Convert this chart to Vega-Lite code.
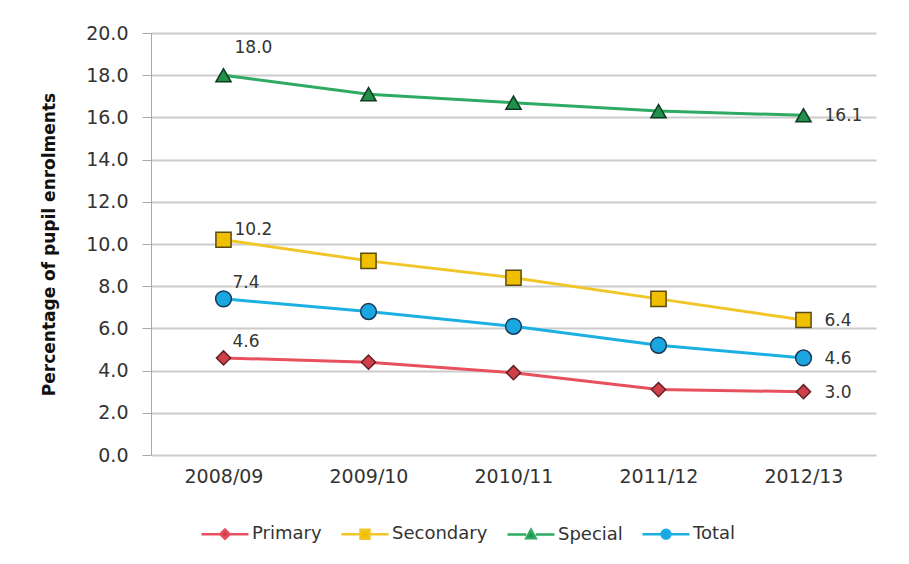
{
  "$schema": "https://vega.github.io/schema/vega-lite/v6.json",
  "autosize": {"type": "none"},
  "width": 725,
  "height": 422,
  "padding": {"left": 151, "top": 33, "right": 33, "bottom": 109},
  "background": "white",
  "config": {
    "font": "DejaVu Sans",
    "view": {"stroke": null},
    "axis": {"labelFont": "DejaVu Sans", "labelFontSize": 19, "labelColor": "#333333", "titleFont": "DejaVu Sans"}
  },
  "data": {
    "values": [
      {"year": "2008/09", "series": "Primary", "value": 4.6},
      {"year": "2009/10", "series": "Primary", "value": 4.4},
      {"year": "2010/11", "series": "Primary", "value": 3.9},
      {"year": "2011/12", "series": "Primary", "value": 3.1},
      {"year": "2012/13", "series": "Primary", "value": 3.0},
      {"year": "2008/09", "series": "Secondary", "value": 10.2},
      {"year": "2009/10", "series": "Secondary", "value": 9.2},
      {"year": "2010/11", "series": "Secondary", "value": 8.4},
      {"year": "2011/12", "series": "Secondary", "value": 7.4},
      {"year": "2012/13", "series": "Secondary", "value": 6.4},
      {"year": "2008/09", "series": "Special", "value": 18.0},
      {"year": "2009/10", "series": "Special", "value": 17.1},
      {"year": "2010/11", "series": "Special", "value": 16.7},
      {"year": "2011/12", "series": "Special", "value": 16.3},
      {"year": "2012/13", "series": "Special", "value": 16.1},
      {"year": "2008/09", "series": "Total", "value": 7.4},
      {"year": "2009/10", "series": "Total", "value": 6.8},
      {"year": "2010/11", "series": "Total", "value": 6.1},
      {"year": "2011/12", "series": "Total", "value": 5.2},
      {"year": "2012/13", "series": "Total", "value": 4.6}
    ]
  },
  "encoding": {
    "x": {
      "field": "year", "type": "ordinal",
      "scale": {"type": "point", "padding": 0.5},
      "axis": {"title": null, "labelAngle": 0, "ticks": false, "labelPadding": 12, "domain": false, "grid": false}
    },
    "y": {
      "field": "value", "type": "quantitative",
      "scale": {"domain": [0, 20], "nice": false},
      "axis": {
        "title": "Percentage of pupil enrolments",
        "titleFontSize": 17, "titleFontWeight": "bold", "titleColor": "#111111", "titlePadding": 27,
        "values": [0, 2, 4, 6, 8, 10, 12, 14, 16, 18, 20], "format": ".1f",
        "tickSize": 9, "tickColor": "#a8a8a8", "labelPadding": 14,
        "domainColor": "#a8a8a8", "gridColor": "#cccccc", "gridWidth": 2
      }
    }
  },
  "layer": [
    {
      "mark": {"type": "line", "strokeWidth": 3},
      "encoding": {
        "color": {
          "field": "series", "type": "nominal",
          "scale": {"domain": ["Primary", "Secondary", "Special", "Total"], "range": ["#e8505e", "#f0c628", "#2eaa62", "#1cb0e2"]},
          "legend": {
            "title": null, "orient": "none", "direction": "horizontal",
            "legendX": 49, "legendY": 476,
            "labelFont": "DejaVu Sans", "labelFontSize": 18, "labelColor": "#333333",
            "symbolSize": 2209, "symbolStrokeWidth": 2.5, "labelOffset": 2, "columnPadding": 14,
            "encode": {
              "symbols": {
                "update": {
                  "shape": {"signal": "datum.value == 'Primary' ? 'M-1,0H-0.2M0.2,0H1M-0.2,0L0,-0.2L0.2,0L0,0.2Z' : datum.value == 'Secondary' ? 'M-1,0H-0.19M0.19,0H1M-0.19,-0.19H0.19V0.19H-0.19Z' : datum.value == 'Special' ? 'M-1,0H-0.2M0.2,0H1M-0.2,0.16L0,-0.2L0.2,0.16Z' : 'M-1,0H-0.19M0.19,0H1M-0.19,0A0.19,0.19,0,1,0,0.19,0A0.19,0.19,0,1,0,-0.19,0Z'"},
                  "fill": {"signal": "datum.value == 'Primary' ? '#d04048' : datum.value == 'Secondary' ? '#f0c000' : datum.value == 'Special' ? '#20904a' : '#1aa6e0'"},
                  "fillOpacity": {"value": 1},
                  "size": {"value": 2209}
                }
              }
            }
          }
        }
      }
    },
    {
      "transform": [{"filter": "datum.series == 'Primary'"}],
      "mark": {"type": "point", "shape": "diamond", "filled": true, "size": 200, "strokeWidth": 1.5, "opacity": 1, "fill": "#d04048", "stroke": "#602026"}
    },
    {
      "transform": [{"filter": "datum.series == 'Secondary'"}],
      "mark": {"type": "point", "shape": "square", "filled": true, "size": 230, "strokeWidth": 1.5, "opacity": 1, "fill": "#f0c000", "stroke": "#5a4a10"}
    },
    {
      "transform": [{"filter": "datum.series == 'Special'"}],
      "mark": {"type": "point", "shape": "triangle-up", "filled": true, "size": 230, "strokeWidth": 1.5, "opacity": 1, "fill": "#20904a", "stroke": "#103a20"}
    },
    {
      "transform": [{"filter": "datum.series == 'Total'"}],
      "mark": {"type": "point", "shape": "circle", "filled": true, "size": 250, "strokeWidth": 1.5, "opacity": 1, "fill": "#1aa6e0", "stroke": "#1a3a5a"}
    },
    {
      "transform": [{"filter": "datum.year == '2008/09' && (datum.series == 'Primary' || datum.series == 'Total')"}],
      "mark": {"type": "text", "align": "left", "baseline": "middle", "dx": 9, "dy": -16, "fontSize": 17, "color": "#333333", "font": "DejaVu Sans"},
      "encoding": {"text": {"field": "value", "type": "quantitative", "format": ".1f"}}
    },
    {
      "transform": [{"filter": "datum.year == '2008/09' && datum.series == 'Special'"}],
      "mark": {"type": "text", "align": "left", "baseline": "middle", "dx": 11, "dy": -27, "fontSize": 17, "color": "#333333", "font": "DejaVu Sans"},
      "encoding": {"text": {"field": "value", "type": "quantitative", "format": ".1f"}}
    },
    {
      "transform": [{"filter": "datum.year == '2008/09' && datum.series == 'Secondary'"}],
      "mark": {"type": "text", "align": "left", "baseline": "middle", "dx": 11, "dy": -10, "fontSize": 17, "color": "#333333", "font": "DejaVu Sans"},
      "encoding": {"text": {"field": "value", "type": "quantitative", "format": ".1f"}}
    },
    {
      "transform": [{"filter": "datum.year == '2012/13'"}],
      "mark": {"type": "text", "align": "left", "baseline": "middle", "dx": 21, "dy": 1, "fontSize": 17, "color": "#333333", "font": "DejaVu Sans"},
      "encoding": {"text": {"field": "value", "type": "quantitative", "format": ".1f"}}
    }
  ]
}
